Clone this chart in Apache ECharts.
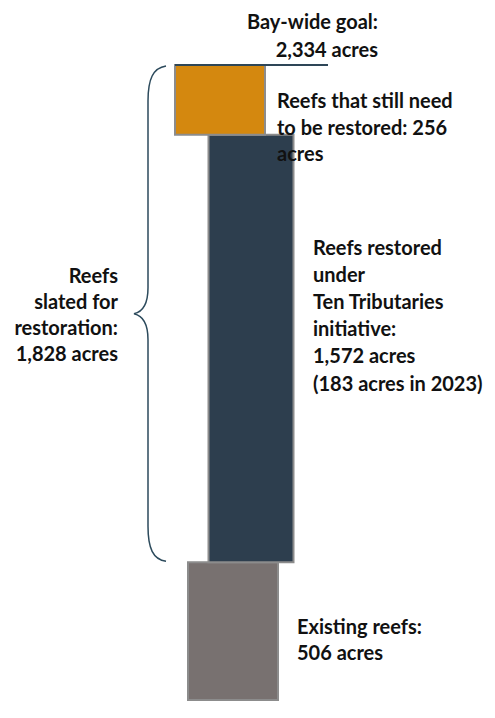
<!DOCTYPE html>
<html lang="en">
<head>
    <meta charset="UTF-8">
    <title>Oyster reef restoration</title>
    <style type="text/css">
        body {
            margin: 0;
            background: #fff;
        }

        #chart {
            width: 495px;
            height: 718px;
        }
    </style>
    <script type="text/javascript" src="https://cdn.jsdelivr.net/npm/echarts@6/dist/echarts.min.js"></script>
</head>
<body>
    <div id="chart"></div>
</body>
</html>
<script type="text/javascript">
    // acres, bottom to top of the stack
    var segNames = ['Existing reefs', 'Reefs restored under Ten Tributaries initiative', 'Reefs that still need to be restored'];
    var segAcres = [506, 1572, 256];
    var segColors = ['#787170', '#2d3e4e', '#d4880f'];
    var goalAcres = 2334;
    var slatedAcres = 1828;
    var restoredIn2023 = 183;

    // horizontal placement of each bar (px), bars are staggered like the original
    var barCenter = [233, 251, 220];
    var barWidth = [90, 85, 90];

    function fmt(n) {
        return n.toLocaleString('en-US');
    }

    var font = 'bold 20px Lato, "Open Sans", sans-serif';
    var textColor = '#111';

    var chart = echarts.init(document.getElementById('chart'), null, {renderer: 'svg'});

    var option = {
        animation: false,
        grid: {
            top: 65,
            bottom: 18,
            left: 0,
            right: 0
        },
        xAxis: {
            type: 'value',
            min: 0,
            max: 495,
            show: false
        },
        yAxis: {
            type: 'value',
            min: 0,
            max: goalAcres,
            show: false
        },
        series: [{
            type: 'custom',
            data: segAcres.map(function (v, i) { return [i, v]; }),
            renderItem: function (params, api) {
                var i = params.dataIndex;
                var base = 0;
                for (var j = 0; j < i; j++) {
                    base += segAcres[j];
                }
                var yTop = api.coord([0, base + segAcres[i]])[1];
                var yBot = api.coord([0, base])[1];
                return {
                    type: 'rect',
                    shape: {
                        x: barCenter[i] - barWidth[i] / 2,
                        y: yTop,
                        width: barWidth[i],
                        height: yBot - yTop
                    },
                    style: {
                        fill: segColors[i],
                        stroke: '#8c8c8c',
                        lineWidth: 2
                    }
                };
            },
            z: 2
        }, {
            // goal line and the brace for the slated acres
            type: 'custom',
            data: [[0, goalAcres]],
            renderItem: function (params, api) {
                var yGoal = api.coord([0, goalAcres])[1];
                var yLow = api.coord([0, goalAcres - slatedAcres])[1];
                var yMid = (yGoal + yLow) / 2;
                var path = 'M166,' + (yGoal + 1) +
                    ' C153,' + (yGoal + 3) + ' 148,' + (yGoal + 14) + ' 148,' + (yGoal + 36) +
                    ' L148,' + (yMid - 26) +
                    ' C148,' + (yMid - 9) + ' 143,' + (yMid - 2) + ' 134,' + yMid +
                    ' C143,' + (yMid + 2) + ' 148,' + (yMid + 9) + ' 148,' + (yMid + 26) +
                    ' L148,' + (yLow - 36) +
                    ' C148,' + (yLow - 14) + ' 153,' + (yLow - 3) + ' 166,' + (yLow - 1);
                return {
                    type: 'group',
                    children: [{
                        type: 'line',
                        shape: {x1: 175, y1: yGoal, x2: 328, y2: yGoal},
                        style: {stroke: '#2e4657', lineWidth: 2}
                    }, {
                        type: 'path',
                        shape: {pathData: path},
                        style: {fill: 'none', stroke: '#2c4a5c', lineWidth: 1.5}
                    }]
                };
            },
            z: 3
        }],
        graphic: [{
            type: 'text',
            z: 10,
            style: {
                text: 'Bay-wide goal:\n' + fmt(goalAcres) + ' acres',
                x: 378, y: 7, textAlign: 'right', textVerticalAlign: 'top',
                lineHeight: 28, font: font, fill: textColor
            }
        }, {
            type: 'text',
            z: 10,
            style: {
                text: 'Reefs that still need\nto be restored: ' + fmt(segAcres[2]) + '\nacres',
                x: 277, y: 87, textAlign: 'left', textVerticalAlign: 'top',
                lineHeight: 26.5, font: font, fill: textColor
            }
        }, {
            type: 'text',
            z: 10,
            style: {
                text: 'Reefs restored\nunder\nTen Tributaries\ninitiative:\n' + fmt(segAcres[1]) + ' acres\n(' + restoredIn2023 + ' acres in 2023)',
                x: 313, y: 233, textAlign: 'left', textVerticalAlign: 'top',
                lineHeight: 27.2, font: font, fill: textColor
            }
        }, {
            type: 'text',
            z: 10,
            style: {
                text: 'Reefs\nslated for\nrestoration:\n' + fmt(slatedAcres) + ' acres',
                x: 118, y: 262, textAlign: 'right', textVerticalAlign: 'top',
                lineHeight: 26, font: font, fill: textColor
            }
        }, {
            type: 'text',
            z: 10,
            style: {
                text: 'Existing reefs:\n' + fmt(segAcres[0]) + ' acres',
                x: 297, y: 613, textAlign: 'left', textVerticalAlign: 'top',
                lineHeight: 26, font: font, fill: textColor
            }
        }]
    };

    chart.setOption(option);
</script>
